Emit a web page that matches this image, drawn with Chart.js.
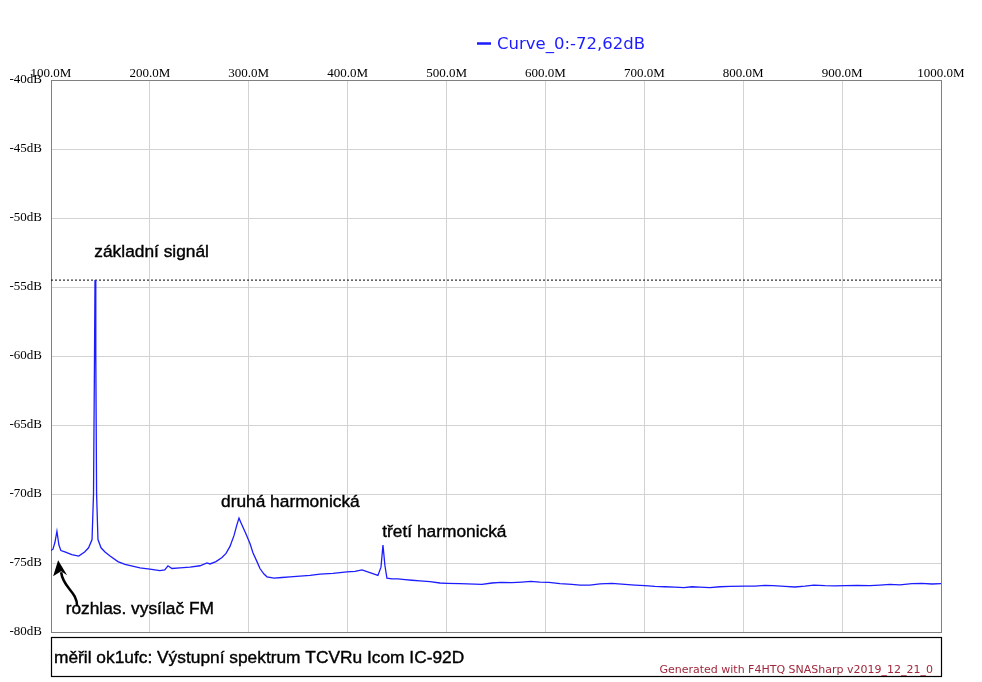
<!DOCTYPE html>
<html>
<head>
<meta charset="utf-8">
<script src="https://cdn.jsdelivr.net/npm/chart.js@4.4.1/dist/chart.umd.min.js"></script>
<style>
  html, body { margin: 0; padding: 0; background: #fff; }
  #wrap { width: 982px; height: 682px; }
</style>
</head>
<body>
<div id="wrap"><canvas id="spectrum" width="982" height="682"></canvas></div>
<script>
// --- data ---
const freqMHz = [
  100.0, 102, 104, 106, 108, 110, 114, 121, 128, 134, 138, 141.5, 143, 144, 144.5, 145.3, 146.1, 147.5,
  150.6, 154.6, 159.7, 167.7, 174.8, 190, 200, 210, 215, 218.3, 222.3, 230.4, 240.5, 250.7, 257.7, 260.8,
  266.8, 272.9, 277, 281, 285.1, 288.1, 290.1, 292.2, 297.2, 301.3, 304.2, 308.3, 311.3, 315.4, 318.4,
  325.5, 333.6, 341.7, 351.8, 361.9, 372, 385.1, 399.3, 407.4, 414.5, 422.5, 430.6, 433.7, 435.7, 437.7,
  439.7, 444.8, 450.9, 458, 465, 473.1, 483.2, 493.3, 500.4, 513.5, 535.8, 545.9, 555, 566.1, 576.2,
  585.3, 594.4, 603.5, 614.7, 626.8, 634.9, 645, 655.1, 667.2, 680.4, 690.5, 700.6, 710.7, 720.8, 730.9,
  740, 748.1, 756.2, 766.2, 776.4, 786.5, 801.7, 811.8, 821.9, 830, 842.2, 852.3, 862.4, 871.5, 882.6,
  892.7, 902.8, 915, 928.1, 938.2, 948.3, 958.4, 970.6, 980.7, 990.8, 1000
];
const levelDb = [
  -74.1, -74.0, -73.5, -72.7, -73.7, -74.1, -74.2, -74.4, -74.5, -74.2, -73.9, -73.3, -70, -60, -54.5, -60, -70, -73.3,
  -73.9, -74.2, -74.5, -74.9, -75.1, -75.35, -75.45, -75.55, -75.5, -75.2, -75.4, -75.35, -75.3, -75.2, -75.0, -75.07,
  -74.9, -74.6, -74.3, -73.8, -73.0, -72.2, -71.75, -72.1, -72.9, -73.6, -74.25, -74.9, -75.4, -75.8, -76.0,
  -76.1, -76.05, -76.0, -75.95, -75.9, -75.8, -75.75, -75.65, -75.6, -75.5, -75.7, -75.9, -75.3, -73.7, -75.2,
  -76.1, -76.15, -76.15, -76.2, -76.25, -76.3, -76.35, -76.45, -76.47, -76.5, -76.55, -76.45, -76.4, -76.42, -76.38,
  -76.33, -76.38, -76.4, -76.5, -76.55, -76.6, -76.6, -76.52, -76.47, -76.55, -76.6, -76.64, -76.7, -76.72, -76.75,
  -76.78, -76.72, -76.75, -76.78, -76.72, -76.7, -76.67, -76.68, -76.62, -76.64, -76.7, -76.74, -76.68, -76.6, -76.64,
  -76.66, -76.64, -76.62, -76.64, -76.6, -76.55, -76.58, -76.5, -76.47, -76.52, -76.5
];
const freqMin = 100, freqMax = 1000, freqStep = 100;
const dbMin = -80, dbMax = -40, dbStep = 5;
const peakMarkerDb = -54.5;
const curveName = 'Curve_0';
const markerReading = '-72,62dB';
const noteTexts = ['základní signál', 'druhá harmonická', 'třetí harmonická', 'rozhlas. vysílač FM'];
const noteFreq  = [143.8, 271.9, 435.0, 114.8];
const noteDb    = [-52.83, -70.96, -73.09, -78.72];
const arrowTip = { f: 107.2, db: -74.8 };
const footerText = 'měřil ok1ufc: Výstupní spektrum TCVRu Icom IC-92D';
const creditText = 'Generated with F4HTQ SNASharp v2019_12_21_0';

const BLUE = 'rgb(28,28,255)';
const SANS = '"Liberation Sans", Arial, sans-serif';
const SERIF = '"Liberation Serif", "Times New Roman", serif';

// extra drawing: frame, legend, notes, arrow, footer
const decor = {
  id: 'decor',
  beforeDatasetsDraw(chart) {
    const { ctx, chartArea: a } = chart;
    ctx.save();
    ctx.strokeStyle = '#808080';
    ctx.lineWidth = 1;
    ctx.strokeRect(a.left + 0.5, a.top + 0.5, a.right - a.left, a.bottom - a.top);
    ctx.restore();
  },
  afterDraw(chart) {
    const { ctx, chartArea: a, scales: { x, y } } = chart;
    ctx.save();

    // legend at the top
    ctx.strokeStyle = BLUE;
    ctx.lineWidth = 2.5;
    ctx.beginPath();
    ctx.moveTo(477, 43.5);
    ctx.lineTo(491, 43.5);
    ctx.stroke();
    ctx.fillStyle = BLUE;
    ctx.font = '16.5px "DejaVu Sans", sans-serif';
    ctx.textBaseline = 'alphabetic';
    ctx.fillText(curveName + ':' + markerReading, 497, 48.5);

    // notes on the curve
    ctx.fillStyle = '#000';
    ctx.strokeStyle = '#000';
    ctx.lineWidth = 0.4;
    ctx.font = '17.33px ' + SANS;
    noteTexts.forEach((t, i) => {
      const px = x.getPixelForValue(noteFreq[i]);
      const py = y.getPixelForValue(noteDb[i]);
      ctx.fillText(t, px, py);
      ctx.strokeText(t, px, py);
    });

    // curved arrow to the FM broadcast spur
    const tx = x.getPixelForValue(arrowTip.f);
    const ty = y.getPixelForValue(arrowTip.db);
    ctx.lineWidth = 2.5;
    ctx.beginPath();
    ctx.moveTo(tx + 19, ty + 46);
    ctx.bezierCurveTo(tx + 19, ty + 31, tx + 5, ty + 28, tx + 3, ty + 12);
    ctx.stroke();
    ctx.beginPath();
    ctx.moveTo(tx, ty);
    ctx.lineTo(tx + 9, ty + 15);
    ctx.lineTo(tx + 3, ty + 11);
    ctx.lineTo(tx - 5, ty + 16);
    ctx.closePath();
    ctx.fill();

    // footer box
    const boxTop = a.bottom + 5.5, boxBottom = a.bottom + 44.5;
    ctx.lineWidth = 1.2;
    ctx.strokeRect(a.left + 0.5, boxTop, a.right - a.left, boxBottom - boxTop);
    ctx.font = '17.33px ' + SANS;
    ctx.lineWidth = 0.4;
    ctx.fillText(footerText, a.left + 3, a.bottom + 31);
    ctx.strokeText(footerText, a.left + 3, a.bottom + 31);
    ctx.fillStyle = '#a0283c';
    ctx.font = '11px "DejaVu Sans", sans-serif';
    ctx.textAlign = 'right';
    ctx.fillText(creditText, a.right - 8, a.bottom + 41);
    ctx.restore();
  }
};

new Chart(document.getElementById('spectrum'), {
  type: 'line',
  data: {
    datasets: [
      {
        label: curveName,
        data: freqMHz.map((f, i) => ({ x: f, y: levelDb[i] })),
        borderColor: BLUE,
        borderWidth: 1.3,
        pointRadius: 0,
        tension: 0,
        fill: false
      },
      {
        label: 'marker',
        data: [{ x: freqMin, y: peakMarkerDb }, { x: freqMax, y: peakMarkerDb }],
        borderColor: '#000',
        borderWidth: 1,
        borderDash: [2, 2],
        pointRadius: 0,
        fill: false
      }
    ]
  },
  options: {
    responsive: false,
    animation: false,
    devicePixelRatio: 1,
    layout: { padding: { left: 0, right: 41, top: 0, bottom: 50 } },
    plugins: { legend: { display: false }, tooltip: { enabled: false } },
    scales: {
      x: {
        type: 'linear',
        position: 'top',
        min: freqMin,
        max: freqMax,
        afterFit: s => { s.height = 80; },
        ticks: {
          stepSize: freqStep,
          maxRotation: 0,
          autoSkip: false,
          padding: -1,
          color: '#000',
          font: { family: SERIF, size: 13 },
          callback: v => v.toFixed(1) + 'M'
        },
        grid: { color: '#d3d3d3', drawTicks: false },
        border: { display: false }
      },
      y: {
        min: dbMin,
        max: dbMax,
        afterFit: s => { s.width = 51; },
        ticks: {
          stepSize: dbStep,
          padding: 9,
          color: '#000',
          font: { family: SERIF, size: 13 },
          callback: v => v + 'dB'
        },
        grid: { color: '#d3d3d3', drawTicks: false },
        border: { display: false }
      }
    }
  },
  plugins: [decor]
});
</script>
</body>
</html>
